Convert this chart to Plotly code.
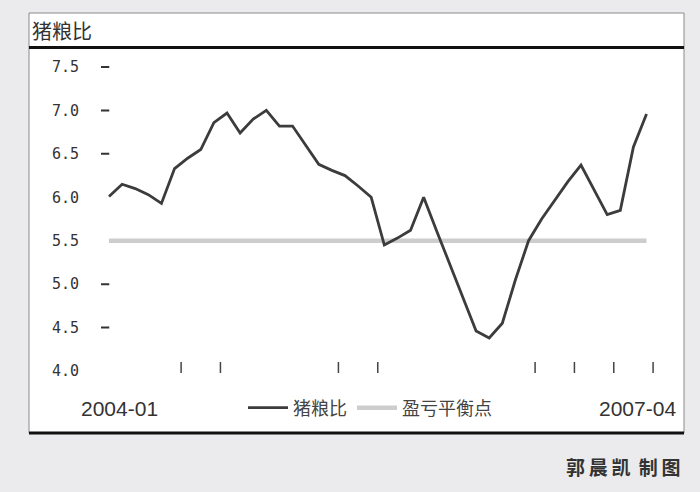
import plotly.graph_objects as go

# Monthly pig-to-grain price ratio, 2004-01 onwards
months_first = "2004-01"
months_last = "2007-04"
ratio = [6.01, 6.15, 6.10, 6.03, 5.93, 6.33, 6.45, 6.55, 6.86, 6.97,
         6.74, 6.90, 7.00, 6.82, 6.82, 6.60, 6.38, 6.31, 6.25, 6.13,
         6.00, 5.45, 5.53, 5.62, 6.00, 5.61, 5.23, 4.84, 4.46, 4.38,
         4.55, 5.05, 5.50, 5.75, 5.97, 6.18, 6.37, 6.08, 5.80, 5.85,
         6.58, 6.96]
breakeven = 5.5

y_ticks = [4.0, 4.5, 5.0, 5.5, 6.0, 6.5, 7.0, 7.5]
y_dash_ticks = [4.5, 5.0, 6.5, 7.0, 7.5]
x_tick_marks = [5.5, 8.5, 17.5, 20.5, 32.5, 35.5, 38.5, 41.5]

idx = list(range(len(ratio)))

W, H = 700, 492
BG = "#ebebed"
DARK = "#3c3c3c"
GREY_LINE = "#cdcdcd"

fig = go.Figure()

fig.add_trace(go.Scatter(
    x=[idx[0], idx[-1]], y=[breakeven, breakeven], mode="lines",
    name="盈亏平衡点", line=dict(color=GREY_LINE, width=4.5),
))
fig.add_trace(go.Scatter(
    x=idx, y=ratio, mode="lines", name="猪粮比",
    line=dict(color=DARK, width=2.8),
))
# short dashes beside y labels
fig.add_trace(go.Scatter(
    x=[-0.3] * len(y_dash_ticks), y=y_dash_ticks, mode="markers",
    marker=dict(symbol="line-ew", size=6, line=dict(color="#333", width=2)),
    showlegend=False, hoverinfo="skip",
))
# small category tick marks along the bottom
fig.add_trace(go.Scatter(
    x=x_tick_marks, y=[4.04] * len(x_tick_marks), mode="markers",
    marker=dict(symbol="line-ns", size=8, line=dict(color="#444", width=1.5)),
    showlegend=False, hoverinfo="skip",
))

x_label_font = dict(family="Liberation Sans Narrow, Liberation Sans, Arial", size=21, color="#333")
annotations = [
    dict(x=0.8, y=408, xref="x", yref="paper", text=months_first, showarrow=False,
         font=x_label_font, xanchor="center", yanchor="middle"),
    dict(x=40.3, y=408, xref="x", yref="paper", text=months_last, showarrow=False,
         font=x_label_font, xanchor="center", yanchor="middle"),
    dict(x=29 + 1, y=31, xref="paper", yref="paper", text="猪粮比", showarrow=False,
         font=dict(family="Noto Sans CJK SC", size=20, color="#333"),
         xanchor="left", yanchor="middle"),
    dict(x=683, y=466, xref="paper", yref="paper",
         text="郭\u2009晨\u2009凯 \u2009制\u2009图", showarrow=False,
         font=dict(family="Noto Sans CJK SC", size=19, color="#333", weight="bold"),
         xanchor="right", yanchor="middle"),
]
# convert pixel-based paper positions
for a in annotations:
    if a["yref"] == "paper":
        a["y"] = 1 - a["y"] / H
    if a["xref"] == "paper":
        a["x"] = a["x"] / W

def px_rect(x0, y0, x1, y1, **kw):
    return dict(type="rect", xref="paper", yref="paper",
                x0=x0 / W, x1=x1 / W, y0=1 - y0 / H, y1=1 - y1 / H, **kw)

def px_line(x0, y0, x1, y1, **kw):
    return dict(type="line", xref="paper", yref="paper",
                x0=x0 / W, x1=x1 / W, y0=1 - y0 / H, y1=1 - y1 / H, **kw)

shapes = [
    px_rect(29, 13, 684, 433, fillcolor="white", line=dict(color="#8a8a8a", width=1), layer="below"),
    px_line(29, 47.5, 684, 47.5, line=dict(color="#111", width=3)),
    px_line(29, 433, 684, 433, line=dict(color="#111", width=3)),
]

fig.update_layout(
    width=W, height=H,
    margin=dict(l=0, r=0, t=0, b=0),
    paper_bgcolor=BG, plot_bgcolor="rgba(0,0,0,0)",
    showlegend=True,
    legend=dict(orientation="h", x=243 / W, y=1 - 408 / H, xanchor="left", yanchor="middle",
                bgcolor="rgba(0,0,0,0)", traceorder="reversed",
                font=dict(family="Noto Sans CJK SC", size=18, color="#444"),
                itemwidth=40, tracegroupgap=0),
    xaxis=dict(domain=[101 / W, 666.2 / W], range=[-0.61, 42.5], showgrid=False,
               zeroline=False, showline=False, showticklabels=False, ticks=""),
    yaxis=dict(domain=[1 - 414.4 / H, 1 - 23.6 / H], range=[3.5, 8.0], showgrid=False,
               zeroline=False, showline=False, tickvals=y_ticks,
               ticktext=[f"{v:.1f}" for v in y_ticks], ticks="",
               ticklabelstandoff=21,
               tickfont=dict(family="DejaVu Sans Mono", size=15, color="#333")),
    annotations=annotations,
    shapes=shapes,
)

fig.write_html("out.html")
